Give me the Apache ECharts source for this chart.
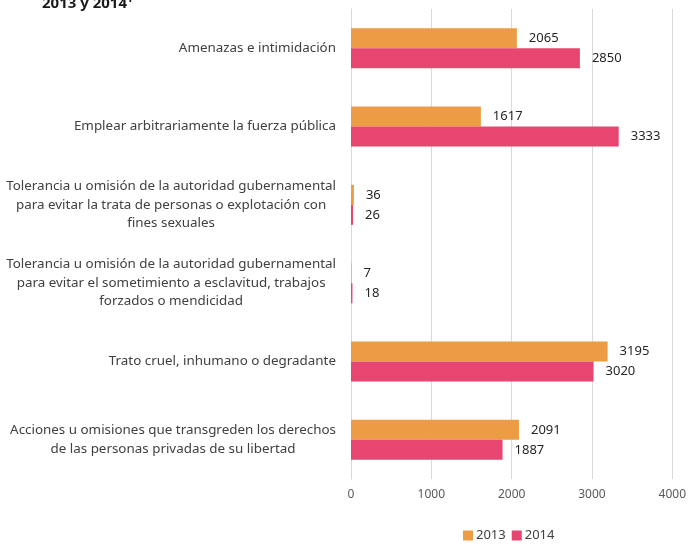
<!DOCTYPE html>
<html>
<head>
<meta charset="utf-8">
<script src="https://cdn.jsdelivr.net/npm/echarts@6/dist/echarts.min.js"></script>
<style>html,body{margin:0;padding:0;background:#fff;}</style>
</head>
<body>
<div id="main" style="width:689px;height:548px;"></div>
<script>
// categorias, de arriba hacia abajo
var categorias = [
    'Amenazas e intimidación',
    'Emplear arbitrariamente la fuerza pública',
    'Tolerancia u omisión de la autoridad gubernamental\npara evitar la trata de personas o explotación con\nfines sexuales',
    'Tolerancia u omisión de la autoridad gubernamental\npara evitar el sometimiento a esclavitud, trabajos\nforzados o mendicidad',
    'Trato cruel, inhumano o degradante',
    'Acciones u omisiones que transgreden los derechos\nde las personas privadas de su libertad'
];
var valores2013 = [2065, 1617, 36, 7, 3195, 2091];
var valores2014 = [2850, 3333, 26, 18, 3020, 1887];
var anios = ['2013', '2014'];
var colores = ['#EC9C45', '#E6466F'];

var myChart = echarts.init(document.getElementById('main'));
var fuente = 'Noto Sans';

function serie(nombre, datos, color) {
    return {
        name: nombre,
        type: 'bar',
        data: datos,
        barWidth: 20,
        barGap: '0%',
        itemStyle: { color: color },
        label: {
            show: true,
            position: 'right',
            distance: 12,
            color: '#262626',
            fontSize: 13,
            fontFamily: fuente
        }
    };
}

var option = {
    animation: false,
    title: {
        text: '2013 y 2014¹',
        left: 37,
        top: -9,
        textStyle: { fontSize: 15, fontWeight: 'bold', color: '#1a1a1a', fontFamily: fuente }
    },
    legend: {
        data: anios,
        left: 458,
        bottom: 1,
        itemWidth: 10,
        itemHeight: 10,
        itemGap: 6,
        icon: 'rect',
        textStyle: { fontSize: 13, color: '#404040', fontFamily: fuente, padding: [0, 0, 0, -2] }
    },
    grid: { left: 351, right: 13, top: 9, bottom: 69 },
    xAxis: {
        type: 'value',
        min: 0,
        max: 4000,
        interval: 1000,
        axisLine: { show: false },
        axisTick: { show: false },
        splitLine: { show: true, lineStyle: { color: '#d9d9d9' } },
        axisLabel: {
            color: '#595959', fontSize: 12, margin: 10, fontFamily: fuente,
            formatter: function (v) { return String(v); }
        }
    },
    yAxis: {
        type: 'category',
        inverse: true,
        data: categorias,
        axisLine: { show: true, lineStyle: { color: '#d9d9d9' } },
        axisTick: { show: false },
        axisLabel: {
            margin: 15,
            align: 'right',
            color: '#404040',
            fontSize: 13.4,
            fontFamily: fuente,
            lineHeight: 18.5,
            formatter: function (v) {
                return v.split('\n').map(function (l) { return '{c|' + l + '}'; }).join('\n');
            },
            rich: {
                c: { align: 'center', fontSize: 13.4, fontFamily: fuente, color: '#404040', lineHeight: 18.5 }
            }
        }
    },
    series: [
        serie(anios[0], valores2013, colores[0]),
        serie(anios[1], valores2014, colores[1])
    ]
};
myChart.setOption(option);
</script>
</body>
</html>
